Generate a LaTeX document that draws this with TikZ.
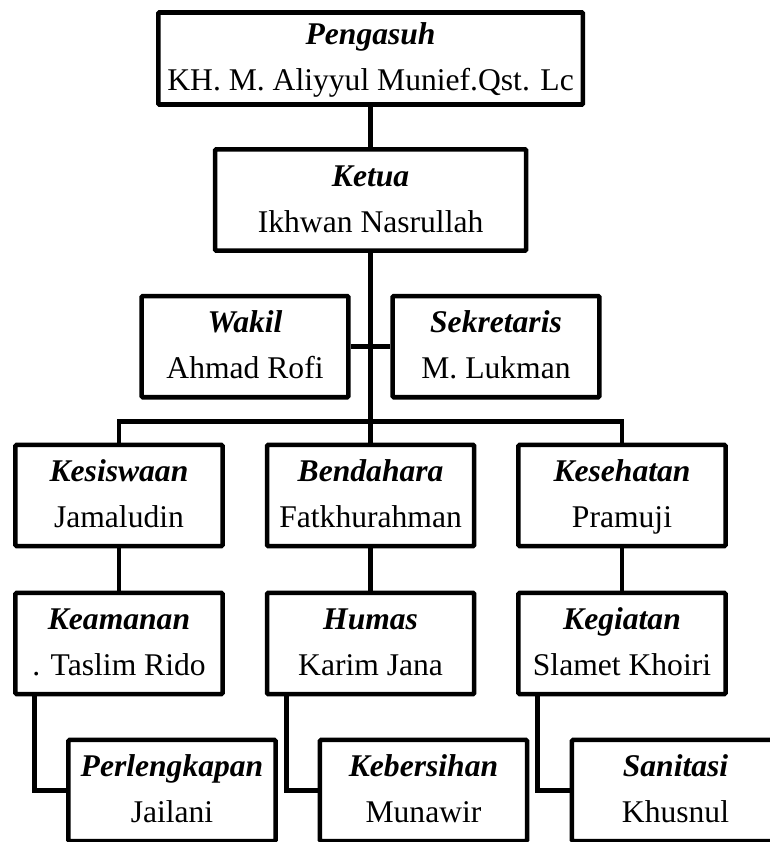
\documentclass[tikz,border=0pt]{standalone}
\usepackage{fontspec}
\setmainfont{Liberation Serif}
\tikzset{
  jabatan/.style={draw,line width=3.4pt,rounded corners=0.8pt,align=center,inner sep=0pt,
    font=\fontsize{23.7pt}{34.5pt}\selectfont,minimum height=75.8pt},
  garis/.style={line width=3.4pt}
}
\newcommand{\jbt}[2]{\textbf{\textit{#1}}\strut\\#2\strut}
\begin{document}
\begin{tikzpicture}[x=0.75pt,y=-0.75pt]
  \useasboundingbox (0,0) rectangle (770,842);
  \node[jabatan,minimum width=318.4pt,minimum height=69pt] (pengasuh) at (370.6,58.5) {\jbt{Pengasuh}{KH. M. Aliyyul Munief.Qst. Lc}};
  \node[jabatan,minimum width=233.3pt] (ketua) at (370.6,200) {\jbt{Ketua}{Ikhwan Nasrullah}};

  \node[jabatan,minimum width=155pt] (wakil) at (245,346.7) {\jbt{Wakil}{Ahmad Rofi}};
  \node[jabatan,minimum width=155pt] (sekretaris) at (496,346.7) {\jbt{Sekretaris}{M. Lukman}};

  \node[jabatan,minimum width=155.3pt] (kesiswaan) at (119,495.5) {\jbt{Kesiswaan}{Jamaludin}};
  \node[jabatan,minimum width=155.3pt] (bendahara) at (370.6,495.5) {\jbt{Bendahara}{Fatkhurahman}};
  \node[jabatan,minimum width=155.3pt] (kesehatan) at (622,495.5) {\jbt{Kesehatan}{Pramuji}};

  \node[jabatan,minimum width=155.3pt] (keamanan) at (119,643.5) {\jbt{Keamanan}{. Taslim Rido}};
  \node[jabatan,minimum width=155.3pt] (humas) at (370.6,643.5) {\jbt{Humas}{Karim Jana}};
  \node[jabatan,minimum width=155.3pt] (kegiatan) at (622,643.5) {\jbt{Kegiatan}{Slamet Khoiri}};

  \node[jabatan,minimum width=155.3pt] (perlengkapan) at (172,790.5) {\jbt{Perlengkapan}{Jailani}};
  \node[jabatan,minimum width=155.3pt] (kebersihan) at (423.5,790.5) {\jbt{Kebersihan}{Munawir}};
  \node[jabatan,minimum width=155.3pt] (sanitasi) at (675.5,790.5) {\jbt{Sanitasi}{Khusnul}};

  \coordinate (bus) at (370.6,421.7);

  \draw[garis] (pengasuh.south) -- (ketua.north);
  \draw[garis] (ketua.south) -- (bendahara.north);
  \draw[garis] (wakil.east) -- (sekretaris.west);
  \draw[garis] (kesiswaan.north) |- (bus) -| (kesehatan.north);

  \draw[garis] (kesiswaan.south) -- (keamanan.north);
  \draw[garis] (bendahara.south) -- (humas.north);
  \draw[garis] (kesehatan.south) -- (kegiatan.north);

  \draw[garis] ([xshift=16.1pt]keamanan.south west) |- (perlengkapan.west);
  \draw[garis] ([xshift=16.1pt]humas.south west) |- (kebersihan.west);
  \draw[garis] ([xshift=16.1pt]kegiatan.south west) |- (sanitasi.west);
\end{tikzpicture}
\end{document}
